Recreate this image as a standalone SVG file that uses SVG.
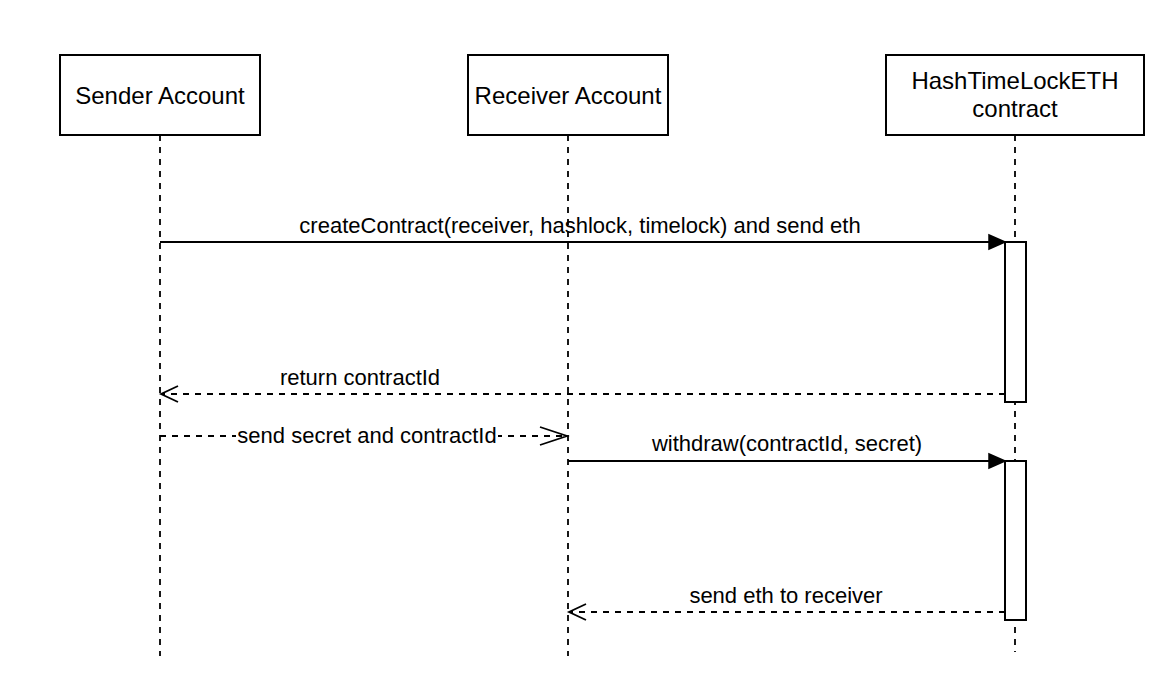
<svg xmlns="http://www.w3.org/2000/svg" width="1172" height="684" viewBox="0 0 1172 684">
<style>
.box{fill:#fff;stroke:#000;stroke-width:2}
.life{stroke:#000;stroke-width:1.8;stroke-dasharray:6 6;fill:none}
.msg{stroke:#000;stroke-width:1.8;fill:none}
.ret{stroke:#000;stroke-width:1.8;stroke-dasharray:6 6;fill:none}
.open{stroke:#000;stroke-width:1.8;fill:none}
text{font-family:"Liberation Sans",Arial,sans-serif;font-size:22px;fill:#000;text-anchor:middle}
.lbl{font-size:24px}
</style>
<rect width="1172" height="684" fill="#fff"/>
<g id="connectors">
<line class="life" x1="160" y1="135" x2="160" y2="656"/>
<line class="life" x1="568" y1="135" x2="568" y2="656"/>
<line class="life" x1="1015" y1="135" x2="1015" y2="652"/>
<line class="msg" x1="160" y1="242" x2="990" y2="242"/>
<path d="M1005,242 L989,235 L989,249 Z" fill="#000" stroke="#000" stroke-width="1.5"/>
<text x="580" y="233">createContract(receiver, hashlock, timelock) and send eth</text>
<line class="ret" x1="1005" y1="394" x2="162" y2="394"/>
<path class="open" d="M178,386 L161,394 L178,402"/>
<text x="360" y="385">return contractId</text>
<line class="ret" x1="160" y1="436" x2="566" y2="436"/>
<path class="open" d="M540,427 L567,436 L540,445"/>
<rect x="236" y="424" width="262" height="24" fill="#fff"/>
<text x="367" y="443">send secret and contractId</text>
<line class="msg" x1="568" y1="461" x2="990" y2="461"/>
<path d="M1005,461 L989,454 L989,468 Z" fill="#000" stroke="#000" stroke-width="1.5"/>
<text x="787" y="451">withdraw(contractId, secret)</text>
<line class="ret" x1="1005" y1="612" x2="570" y2="612"/>
<path class="open" d="M586,604 L569,612 L586,620"/>
<text x="786" y="603">send eth to receiver</text>
</g>
<g id="sender"><rect class="box" x="60" y="55" width="200" height="80"/><text class="lbl" x="160" y="104">Sender Account</text></g>
<g id="receiver"><rect class="box" x="468" y="55" width="200" height="80"/><text class="lbl" x="568" y="104">Receiver Account</text></g>
<g id="contract"><rect class="box" x="886" y="55" width="258" height="80"/><text class="lbl" x="1015" y="89">HashTimeLockETH</text><text class="lbl" x="1015" y="117">contract</text></g>
<g id="activation1"><rect class="box" x="1005" y="242" width="21" height="160"/></g>
<g id="activation2"><rect class="box" x="1005" y="461" width="21" height="159"/></g>
</svg>
